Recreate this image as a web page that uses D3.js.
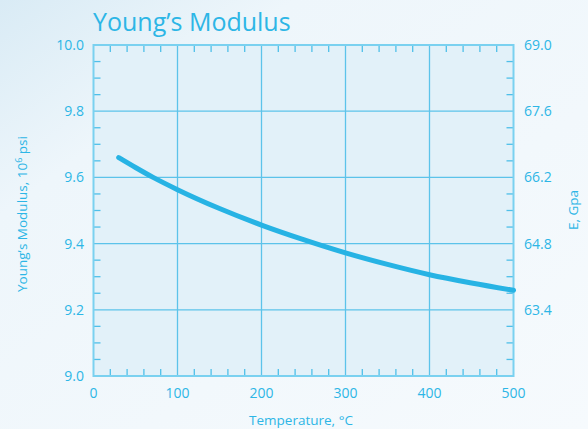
<!DOCTYPE html>
<html>
<head>
<meta charset="utf-8">
<script src="https://cdn.jsdelivr.net/npm/d3@7"></script>
<style>
  body { margin: 0; background: #f4f9fc; }
  text { font-family: "Open Sans", "Noto Sans", sans-serif; }
</style>
</head>
<body>
<div id="chart"></div>
<script>
// data
const temps = [30, 50, 71, 100, 150, 200, 250, 300, 350, 400, 450, 500];
const modulus = [9.660, 9.630, 9.600, 9.563, 9.506, 9.456, 9.412, 9.372, 9.337, 9.306, 9.281, 9.259];
const xTicks = [0, 100, 200, 300, 400, 500];
const yTicks = [9.0, 9.2, 9.4, 9.6, 9.8, 10.0];
const gpaLabels = ["", "63.4", "64.8", "66.2", "67.6", "69.0"];

const W = 588, H = 429;
const mLeft = 93.5, mRight = 513.5, mTop = 45, mBottom = 376;
const cyan = "#2db6e6";

const svg = d3.select("#chart").append("svg").attr("width", W).attr("height", H);

// background
const defs = svg.append("defs");
const grad = defs.append("linearGradient").attr("id", "bg")
  .attr("x1", "0").attr("y1", "0").attr("x2", "1").attr("y2", "1");
grad.append("stop").attr("offset", "0").attr("stop-color", "#d9ebf5");
grad.append("stop").attr("offset", "0.25").attr("stop-color", "#eef6fb");
grad.append("stop").attr("offset", "1").attr("stop-color", "#f6fafd");
svg.append("rect").attr("width", W).attr("height", H).attr("fill", "url(#bg)");

const x = d3.scaleLinear().domain([0, 500]).range([mLeft, mRight]);
const y = d3.scaleLinear().domain([9.0, 10.0]).range([mBottom, mTop]);

// plot area
svg.append("rect")
  .attr("x", mLeft).attr("y", mTop)
  .attr("width", mRight - mLeft).attr("height", mBottom - mTop)
  .attr("fill", "#e2f1f9");

// grid
svg.append("g").selectAll("line").data(xTicks.slice(1, -1)).enter().append("line")
  .attr("x1", d => x(d)).attr("x2", d => x(d))
  .attr("y1", mTop).attr("y2", mBottom)
  .attr("stroke", "#5cc3ea").attr("stroke-width", 1.3);
svg.append("g").selectAll("line").data(yTicks.slice(1, -1)).enter().append("line")
  .attr("x1", mLeft).attr("x2", mRight)
  .attr("y1", d => y(d)).attr("y2", d => y(d))
  .attr("stroke", "#5cc3ea").attr("stroke-width", 1.3);

// minor ticks
const xMinor = d3.range(0, 501, 20).filter(d => d % 100 != 0);
const yMinor = d3.range(9.0, 10.001, 0.05).filter(d => Math.abs(Math.round(d * 5) - d * 5) > 0.01);
const ticks = svg.append("g").attr("stroke", "#4fbfe9").attr("stroke-width", 1.3);
xMinor.forEach(d => {
  ticks.append("line").attr("x1", x(d)).attr("x2", x(d)).attr("y1", mBottom).attr("y2", mBottom - 7);
  ticks.append("line").attr("x1", x(d)).attr("x2", x(d)).attr("y1", mTop).attr("y2", mTop + 7);
});
yMinor.forEach(d => {
  ticks.append("line").attr("x1", mLeft).attr("x2", mLeft + 7).attr("y1", y(d)).attr("y2", y(d));
  ticks.append("line").attr("x1", mRight).attr("x2", mRight - 7).attr("y1", y(d)).attr("y2", y(d));
});

// frame
svg.append("rect")
  .attr("x", mLeft).attr("y", mTop)
  .attr("width", mRight - mLeft).attr("height", mBottom - mTop)
  .attr("fill", "none").attr("stroke", "#7ad1f0").attr("stroke-width", 2);

// curve
const line = d3.line().x((d, i) => x(temps[i])).y(d => y(d)).curve(d3.curveMonotoneX);
svg.append("path").datum(modulus)
  .attr("d", line)
  .attr("fill", "none").attr("stroke", "#27b3e4")
  .attr("stroke-width", 5).attr("stroke-linecap", "round");

// tick labels
svg.append("g").selectAll("text").data(xTicks).enter().append("text")
  .attr("x", d => x(d)).attr("y", 398)
  .attr("text-anchor", "middle").attr("fill", cyan).attr("font-size", 14)
  .text(d => d);
svg.append("g").selectAll("text").data(yTicks).enter().append("text")
  .attr("x", 84).attr("y", d => y(d) + 5)
  .attr("text-anchor", "end").attr("fill", cyan).attr("font-size", 14)
  .text(d => d.toFixed(1));
svg.append("g").selectAll("text").data(yTicks).enter().append("text")
  .attr("x", 524).attr("y", d => y(d) + 5)
  .attr("fill", cyan).attr("font-size", 14)
  .text((d, i) => gpaLabels[i]);

// titles
svg.append("text").attr("x", 93).attr("y", 31)
  .attr("fill", cyan).attr("font-size", 25)
  .text("Young’s Modulus");
svg.append("text").attr("x", 301).attr("y", 425)
  .attr("text-anchor", "middle").attr("fill", cyan).attr("font-size", 13.5)
  .text("Temperature, °C");
const yl = svg.append("text")
  .attr("transform", "translate(27,214) rotate(-90)")
  .attr("text-anchor", "middle").attr("fill", cyan).attr("font-size", 13.5);
yl.append("tspan").text("Young’s Modulus, 10");
yl.append("tspan").attr("dy", -5).attr("font-size", 9).text("6");
yl.append("tspan").attr("dy", 5).text(" psi");
svg.append("text")
  .attr("transform", "translate(578,210) rotate(-90)")
  .attr("text-anchor", "middle").attr("fill", cyan).attr("font-size", 13.5)
  .text("E, Gpa");
</script>
</body>
</html>
